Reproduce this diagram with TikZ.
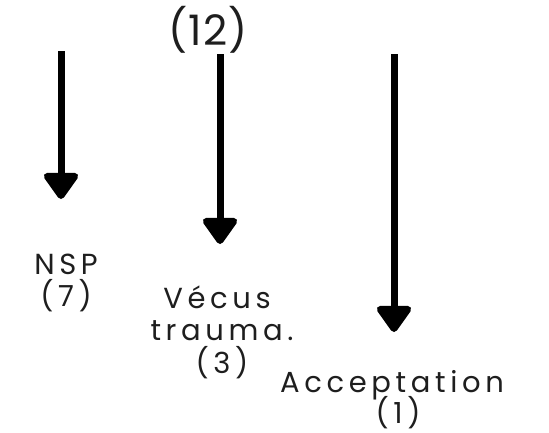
\documentclass[tikz,border=0pt]{standalone}
\usepackage{fontspec}
\setmainfont{Poppins}[LetterSpace=16]
\newfontfamily\numfont{Poppins}[LetterSpace=2]
\usetikzlibrary{arrows.meta}
\definecolor{ink}{HTML}{1E1E1E}
\tikzset{
  bigarrow/.style={line width=7pt, -{Triangle[width=39pt,length=29pt,round]}, black},
  lbl/.style={anchor=base, inner sep=0pt, text=ink, font=\fontsize{29}{33}\selectfont},
  toplbl/.style={anchor=base, inner sep=0pt, text=ink, font=\fontsize{42}{46}\selectfont\numfont}
}
\begin{document}
\begin{tikzpicture}[x=1pt,y=-1pt]
\useasboundingbox[fill=white] (0,0) rectangle (549,432);
\coordinate (a1s) at (61,51);
\coordinate (a1e) at (61,199);
\coordinate (a2s) at (220,54);
\coordinate (a2e) at (220,244);
\coordinate (a3s) at (394,54);
\coordinate (a3e) at (394,332);
\draw[bigarrow] (a1s) -- (a1e);
\draw[bigarrow] (a2s) -- (a2e);
\draw[bigarrow] (a3s) -- (a3e);
\node[toplbl] (tot) at (208,45) {(12)};
\node[lbl] (nsp) at (66,274) {NSP};
\node[lbl] (nspn) at (66,306) {(7)};
\node[lbl] (vec1) at (217,308) {Vécus};
\node[lbl] (vec2) at (222,340) {trauma.};
\node[lbl] (vecn) at (222,373) {(3)};
\node[lbl] (acc) at (392,392) {Acceptation};
\node[lbl] (accn) at (398,423) {(1)};
\end{tikzpicture}
\end{document}
